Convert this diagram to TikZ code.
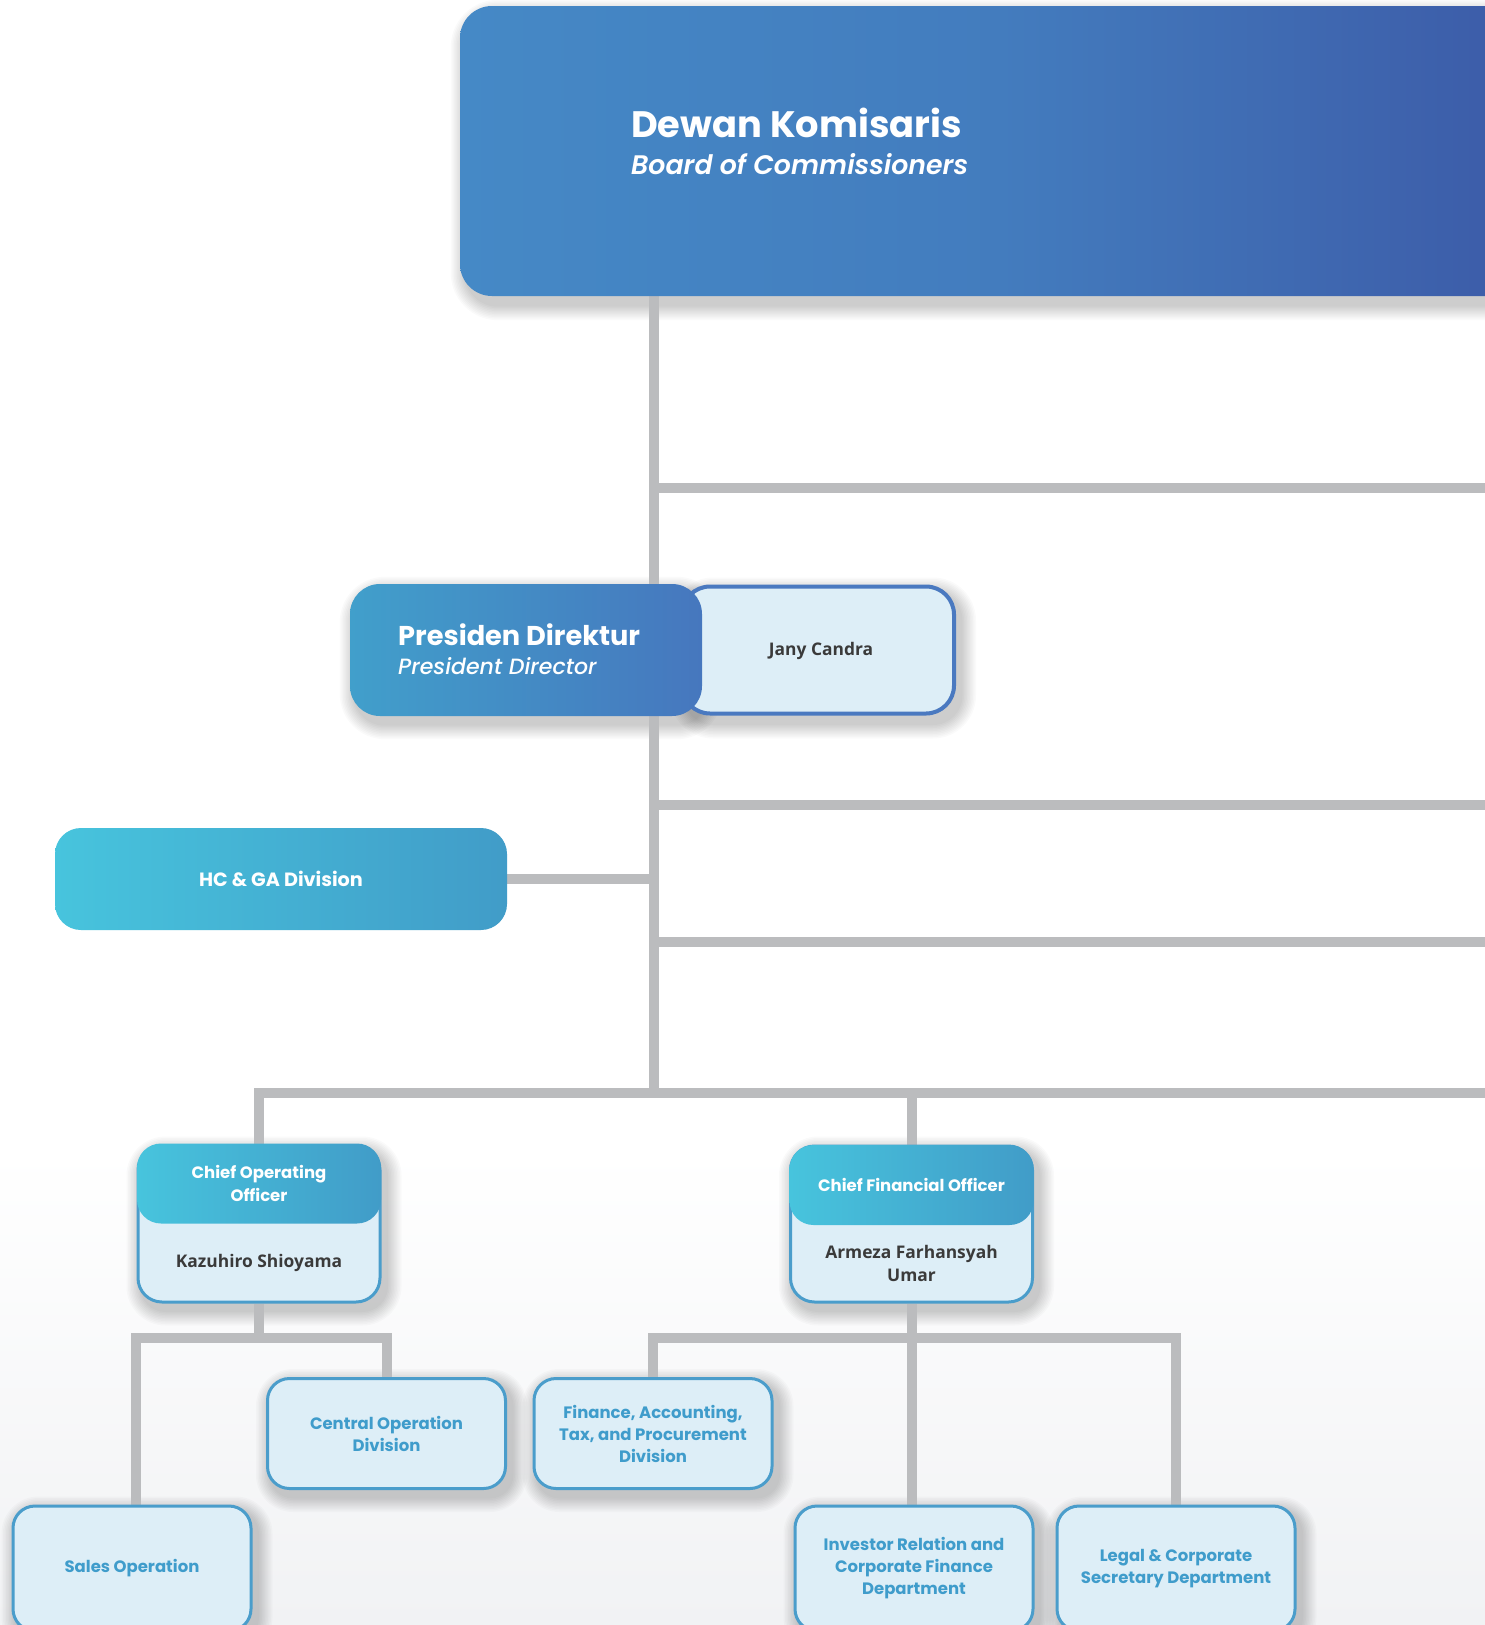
\documentclass[tikz,border=0pt]{standalone}
\usepackage{fontspec}
\setmainfont{Poppins}
\newfontfamily\namefont{Open Sans}
\newfontfamily\popmedium{Poppins Medium Italic}
\newfontfamily\popsemi{Poppins SemiBold Italic}
\usetikzlibrary{calc}
\definecolor{lineg}{HTML}{BBBCBE}
\definecolor{boardL}{HTML}{4589C6}
\definecolor{boardM}{HTML}{437CBE}
\definecolor{boardR}{HTML}{3C5AA7}
\definecolor{presA}{HTML}{419FCB}
\definecolor{presB}{HTML}{4677BE}
\definecolor{presBorder}{HTML}{4A79C0}
\definecolor{lightf}{HTML}{DDEEF7}
\definecolor{cyanA}{HTML}{47C4DD}
\definecolor{cyanB}{HTML}{419CC8}
\definecolor{divb}{HTML}{4A9DCB}
\definecolor{divt}{HTML}{3F9CCB}
\definecolor{namet}{HTML}{3A3A3A}
\definecolor{bgg}{HTML}{F1F2F4}
\pgfdeclarelayer{back}
\pgfdeclarelayer{shad}
\pgfdeclarelayer{lines}
\pgfsetlayers{back,shad,lines,main}
\newcommand\mkshadow[4]{% node, radius, xoff, yoff
  \begin{pgfonlayer}{shad}
  \foreach \i in {1,...,10}{
    \fill[black, opacity=0.021, rounded corners={#2+1.5pt*\i}]
      ($(#1.north west)+(#3-1.5*\i,#4-1.5*\i)$) rectangle ($(#1.south east)+(#3+1.5*\i,#4+1.5*\i)$);
  }
  \end{pgfonlayer}}
\tikzset{
  conn/.style={draw=lineg, line width=10pt},
  divbox/.style={rectangle, rounded corners=22pt, draw=divb, line width=3pt, fill=lightf,
    text=divt, font=\bfseries\fontsize{16.5}{22}\selectfont, align=center, inner sep=0pt,
    minimum width=238pt},
  headbox/.style={rectangle, rounded corners=24pt, left color=cyanA, right color=cyanB,
    text=white, font=\bfseries\fontsize{16.5}{22.5}\selectfont, align=center, inner sep=0pt,
    minimum width=244pt, minimum height=80pt},
  bodybox/.style={rectangle, rounded corners=24pt, draw=divb, line width=3pt, fill=lightf,
    inner sep=0pt, minimum width=242pt, minimum height=156pt},
  nametext/.style={text=namet, font=\namefont\bfseries\fontsize{17.4}{22.5}\selectfont, align=center, inner sep=0pt},
}
\begin{document}
\begin{tikzpicture}[x=1pt,y=-1pt]
\useasboundingbox (0,0) rectangle (1485,1625);
\begin{pgfonlayer}{back}
\fill[white] (0,0) rectangle (1485,1625);
\shade[top color=white, bottom color=bgg] (0,1150) rectangle (1485,1625);
\end{pgfonlayer}

% Board of Commissioners
\node[rectangle, rounded corners=32pt, left color=boardL, right color=boardR, middle color=boardM,
  minimum width=1080pt, minimum height=290pt, inner sep=0pt]
  (board) at (1000,151) {};
\mkshadow{board}{32pt}{6}{9}
\node[anchor=base west, text=white, inner sep=0pt, font=\bfseries\fontsize{36.8}{40}\selectfont] (bt1) at (631,137) {Dewan Komisaris};
\node[anchor=base west, text=white, inner sep=0pt, font=\popsemi\fontsize{26.8}{30}\selectfont] (bt2) at (631,174) {Board of Commissioners};

% President Director
\node[rectangle, rounded corners=28pt, draw=presBorder, line width=4pt, fill=lightf,
  minimum width=272pt, minimum height=127pt, inner sep=0pt] (presR) at (818,650) {};
\node[rectangle, rounded corners=30pt, left color=presA, right color=presB,
  minimum width=352pt, minimum height=132pt, inner sep=0pt] (presL) at (526,650) {};
\mkshadow{presR}{28pt}{5}{8}
\mkshadow{presL}{30pt}{5}{8}
\node[anchor=base west, text=white, inner sep=0pt, font=\bfseries\fontsize{27.2}{30}\selectfont] (pd1) at (398,645) {Presiden Direktur};
\node[anchor=base west, text=white, inner sep=0pt, font=\popmedium\fontsize{22.1}{26}\selectfont] (pd2) at (398,674) {President Director};
\node[nametext] (jany) at (821,651) {Jany Candra};

% HC & GA
\node[rectangle, rounded corners=26pt, left color=cyanA, right color=cyanB,
  minimum width=452pt, minimum height=102pt, inner sep=0pt, text=white,
  font=\bfseries\fontsize{19.2}{24}\selectfont] (hcga) at (281,879) {HC \& GA Division};

% COO
\node[bodybox] (coo) at (259,1224) {};
\mkshadow{coo}{24pt}{5}{7}
\node[headbox] (cooh) at (259,1183.5) {Chief Operating\\Officer};
\node[nametext] (coon) at (259,1263) {Kazuhiro Shioyama};

% CFO
\node[bodybox] (cfo) at (911.5,1224) {};
\mkshadow{cfo}{24pt}{5}{7}
\node[headbox] (cfoh) at (911.5,1185) {Chief Financial Officer};
\node[nametext] (cfon) at (911.5,1263.5) {Armeza Farhansyah\\Umar};

% Divisions
\node[divbox, minimum height=110pt] (central) at (386.5,1433.5) {Central Operation\\Division};
\node[divbox, minimum height=110pt] (finance) at (653,1433.5) {Finance, Accounting,\\Tax, and Procurement\\Division};
\node[divbox, minimum height=125pt] (sales) at (132,1568.5) {Sales Operation};
\node[divbox, minimum height=125pt] (investor) at (914,1568.5) {Investor Relation and\\Corporate Finance\\Department};
\node[divbox, minimum height=125pt] (legal) at (1176,1568.5) {Legal \& Corporate\\Secretary Department};
\mkshadow{central}{22pt}{5}{7}
\mkshadow{finance}{22pt}{5}{7}
\mkshadow{sales}{22pt}{5}{7}
\mkshadow{investor}{22pt}{5}{7}
\mkshadow{legal}{22pt}{5}{7}

% connectors
\coordinate (bus) at (654,1093);
\coordinate (busR) at (1500,1093);
\coordinate (r1) at (1500,488);
\coordinate (r2) at (1500,805);
\coordinate (r3) at (1500,942);
\coordinate (cj) at (259,1338);
\begin{pgfonlayer}{lines}
\draw[conn] (board.south -| bus) -- (bus);
\draw[conn] (r1 -| bus) -- (r1);
\draw[conn] (r2 -| bus) -- (r2);
\draw[conn] (r3 -| bus) -- (r3);
\draw[conn] (hcga.east) -- (hcga.east -| bus);
\draw[conn] (coo.north) |- (busR);
\draw[conn] (cfo.north) -- (cfo.north |- bus);
\draw[conn] (coo.south) -- (cj);
\draw[conn] ([xshift=4pt]sales.north) |- (central.north |- cj) -- (central.north);
\draw[conn] (cfo.south) -- (cfo.south |- investor.north);
\draw[conn] (finance.north) |- (legal.north |- cj) -- (legal.north);
\end{pgfonlayer}
\end{tikzpicture}
\end{document}
